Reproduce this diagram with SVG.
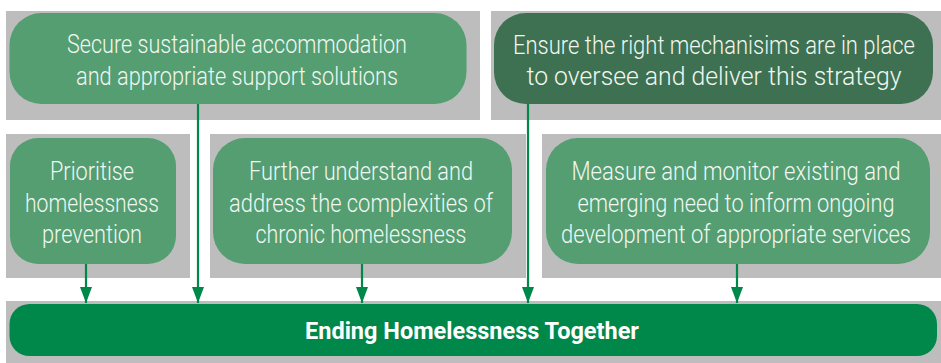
<svg xmlns="http://www.w3.org/2000/svg" width="941" height="363" viewBox="0 0 941 363">
  <defs>
    <style>
      .panel { fill: #bdbdbd; }
      .goal { fill: #549e72; }
      .goal-dark { fill: #3e7151; }
      .outcome { fill: #00874a; }
      .lbl { font-family: Roboto, "Liberation Sans", sans-serif; font-weight: 300; font-size: 25px; fill: #f1f7f2; text-anchor: middle; }
      .lbl-bold { font-family: Roboto, "Liberation Sans", sans-serif; font-weight: 700; font-size: 23px; fill: #ffffff; text-anchor: middle; }
      .link { stroke: #00874a; stroke-width: 2.2; fill: none; }
    </style>
    <!-- arrowhead drawn along +x so orient="auto" turns it to point down the line -->
    <marker id="arrow" viewBox="0 0 16 12" refX="16" refY="6" markerWidth="16" markerHeight="12" markerUnits="userSpaceOnUse" orient="auto">
      <path d="M0,0 L16,6 L0,12 Z" fill="#00874a"/>
    </marker>
  </defs>

  <!-- background panels -->
  <rect class="panel" x="6" y="11" width="474" height="109"/>
  <rect class="panel" x="491" y="11" width="450" height="109"/>
  <rect class="panel" x="6" y="134" width="184" height="144"/>
  <rect class="panel" x="210" y="134" width="316" height="144"/>
  <rect class="panel" x="542" y="134" width="399" height="144"/>
  <rect class="panel" x="6" y="301" width="935" height="62"/>

  <g id="secure-accommodation">
    <rect class="goal" x="9.5" y="13" width="457" height="91" rx="32"/>
    <text class="lbl" x="237" y="53" textLength="340" lengthAdjust="spacingAndGlyphs">Secure sustainable accommodation</text>
    <text class="lbl" x="237" y="85" textLength="322" lengthAdjust="spacingAndGlyphs">and appropriate support solutions</text>
  </g>

  <g id="mechanisms">
    <rect class="goal-dark" x="494" y="13" width="439" height="91" rx="32"/>
    <text class="lbl" x="714" y="54" textLength="402" lengthAdjust="spacingAndGlyphs">Ensure the right mechanisims are in place</text>
    <text class="lbl" x="714" y="85" textLength="375" lengthAdjust="spacingAndGlyphs">to oversee and deliver this strategy</text>
  </g>

  <g id="prevention">
    <rect class="goal" x="10" y="138" width="166" height="126" rx="28"/>
    <text class="lbl" x="92" y="180" textLength="84" lengthAdjust="spacingAndGlyphs">Prioritise</text>
    <text class="lbl" x="92" y="212" textLength="134" lengthAdjust="spacingAndGlyphs">homelessness</text>
    <text class="lbl" x="92" y="243" textLength="100" lengthAdjust="spacingAndGlyphs">prevention</text>
  </g>

  <g id="chronic-homelessness">
    <rect class="goal" x="213" y="138" width="299" height="126" rx="32"/>
    <text class="lbl" x="361" y="180" textLength="224" lengthAdjust="spacingAndGlyphs">Further understand and</text>
    <text class="lbl" x="361" y="212" textLength="264" lengthAdjust="spacingAndGlyphs">address the complexities of</text>
    <text class="lbl" x="361" y="243" textLength="211" lengthAdjust="spacingAndGlyphs">chronic homelessness</text>
  </g>

  <g id="measure-monitor">
    <rect class="goal" x="546" y="138" width="384" height="126" rx="32"/>
    <text class="lbl" x="736" y="180" textLength="329" lengthAdjust="spacingAndGlyphs">Measure and monitor existing and</text>
    <text class="lbl" x="736" y="212" textLength="317" lengthAdjust="spacingAndGlyphs">emerging need to inform ongoing</text>
    <text class="lbl" x="736" y="243" textLength="350" lengthAdjust="spacingAndGlyphs">development of appropriate services</text>
  </g>

  <g id="ending-homelessness">
    <rect class="outcome" x="9.5" y="304" width="927.5" height="52" rx="20"/>
    <text class="lbl-bold" x="472" y="339" textLength="334" lengthAdjust="spacingAndGlyphs">Ending Homelessness Together</text>
  </g>

  <g id="connectors">
    <line class="link" x1="86" y1="264" x2="86" y2="303" marker-end="url(#arrow)"/>
    <line class="link" x1="198" y1="104" x2="198" y2="303" marker-end="url(#arrow)"/>
    <line class="link" x1="362" y1="264" x2="362" y2="303" marker-end="url(#arrow)"/>
    <line class="link" x1="528" y1="104" x2="528" y2="303" marker-end="url(#arrow)"/>
    <line class="link" x1="737" y1="264" x2="737" y2="303" marker-end="url(#arrow)"/>
  </g>
</svg>
